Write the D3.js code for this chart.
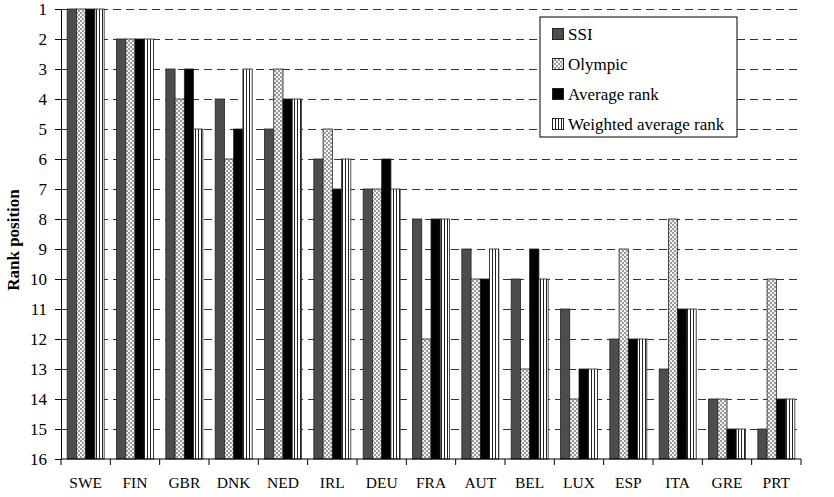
<!DOCTYPE html>
<html><head><meta charset="utf-8">
<script src="https://cdn.jsdelivr.net/npm/d3@7"></script>
<style>body{margin:0;background:#fff}svg{display:block}text{font-family:"Liberation Serif","Times New Roman",serif}</style>
</head><body><svg id="c" width="834" height="497"></svg>
<script>
const categories = ["SWE","FIN","GBR","DNK","NED","IRL","DEU","FRA","AUT","BEL","LUX","ESP","ITA","GRE","PRT"];
const seriesNames = ["SSI","Olympic","Average rank","Weighted average rank"];
const ssi      = [1,2,3,4,5,6,7,8,9,10,11,12,13,14,15];
const olympic  = [1,2,4,6,3,5,7,12,10,13,14,9,8,14,10];
const avgRank  = [1,2,3,5,4,7,6,8,10,9,13,12,11,15,14];
const wAvgRank = [1,2,5,3,4,6,7,8,9,10,13,12,11,15,14];
const yTicks = [1,2,3,4,5,6,7,8,9,10,11,12,13,14,15,16];
const series = [ssi, olympic, avgRank, wAvgRank];

const svg = d3.select("#c");
const defs = svg.append("defs");
const chk = defs.append("pattern").attr("id","chk").attr("patternUnits","userSpaceOnUse").attr("width",4).attr("height",4);
chk.append("rect").attr("width",4).attr("height",4).attr("fill","#f2f2f2");
chk.append("rect").attr("width",2).attr("height",2).attr("fill","#9a9a9a");
chk.append("rect").attr("x",2).attr("y",2).attr("width",2).attr("height",2).attr("fill","#9a9a9a");
const str = defs.append("pattern").attr("id","str").attr("patternUnits","userSpaceOnUse").attr("width",3).attr("height",4);
str.append("rect").attr("width",3).attr("height",4).attr("fill","#fff");
str.append("rect").attr("x",0).attr("width",1).attr("height",4).attr("fill","#222");
const fills = ["#4d4d4d","url(#chk)","#000","url(#str)"];

const L = 61, R = 801, T = 9, B = 459;
const x = d3.scaleBand().domain(categories).range([L,R]).paddingInner(0.25).paddingOuter(0.125);
const xs = d3.scaleBand().domain(d3.range(4)).range([0,x.bandwidth()]);
const y = d3.scaleLinear().domain([1,16]).range([T,B]);

// grid
svg.append("g").selectAll("line").data(yTicks.filter(d=>d<16)).join("line")
  .attr("x1",L).attr("x2",R).attr("y1",d=>y(d)+0.5).attr("y2",d=>y(d)+0.5)
  .attr("stroke","#333").attr("stroke-width",1).attr("stroke-dasharray","8,5");

// bars
categories.forEach((c,i)=>{
  series.forEach((s,k)=>{
    svg.append("rect").attr("x",x(c)+xs(k)).attr("width",xs.bandwidth())
      .attr("y",y(s[i])).attr("height",y(16)-y(s[i]))
      .attr("fill",fills[k]).attr("stroke","#222").attr("stroke-width",0.8);
  });
});

// y axis
const ya = svg.append("g").attr("transform",`translate(${L},0)`)
  .call(d3.axisLeft(y).tickValues(yTicks).tickSize(6).tickFormat(d3.format("d")));
ya.select(".domain").attr("stroke","#000");
ya.selectAll("text").attr("font-size",17).attr("fill","#000").attr("dx",-5);

// x axis
const xa = svg.append("g").attr("transform",`translate(0,${B})`);
xa.append("line").attr("x1",L).attr("x2",R).attr("stroke","#000");
const bounds = categories.map(c=>x(c)-x.step()*x.paddingInner()/2).concat([R]);
bounds[0]=L;
xa.selectAll("line.t").data(bounds).join("line").attr("class","t").attr("x1",d=>d).attr("x2",d=>d).attr("y1",0).attr("y2",6).attr("stroke","#000");
xa.selectAll("text").data(categories).join("text").attr("x",d=>x(d)+x.bandwidth()/2).attr("y",29)
  .attr("text-anchor","middle").attr("font-size",15.5).text(d=>d);

// y title
svg.append("text").attr("transform","translate(19,240) rotate(-90)").attr("text-anchor","middle")
  .attr("font-size",17).attr("font-weight","bold").text("Rank position");

// legend
const lg = svg.append("g").attr("transform","translate(540,17)");
lg.append("rect").attr("width",197).attr("height",120).attr("fill","#fff").attr("stroke","#000");
seriesNames.forEach((n,k)=>{
  const yy = 23 + k*30;
  lg.append("rect").attr("x",12.5).attr("y",yy-11.5).attr("width",11).attr("height",11).attr("fill",fills[k]).attr("stroke","#222");
  lg.append("text").attr("x",28).attr("y",yy).attr("font-size",17).text(n);
});
</script></body></html>
